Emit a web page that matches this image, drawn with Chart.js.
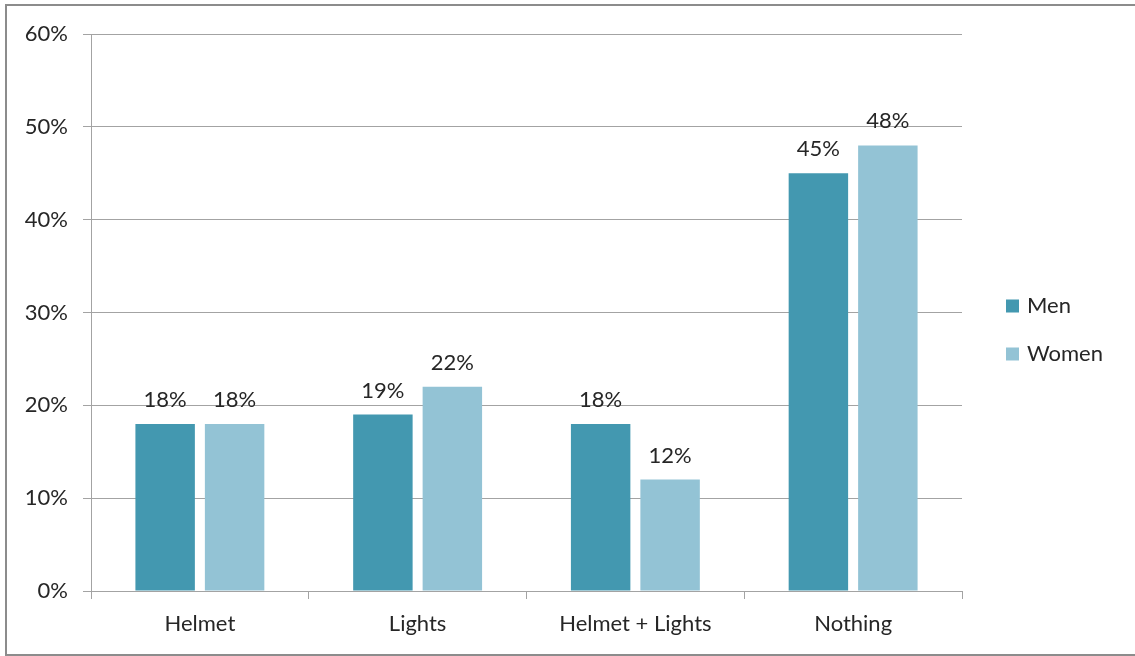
<!DOCTYPE html>
<html>
<head>
<meta charset="utf-8">
<script src="https://cdn.jsdelivr.net/npm/chart.js@4/dist/chart.umd.min.js"></script>
<style>
  html, body { margin: 0; padding: 0; background: #fff; overflow: hidden; }
  #wrap { position: absolute; left: 0; top: 0; width: 1135px; height: 656px; overflow: hidden; }
  #frame { position: absolute; left: 5px; top: 4px; width: 1130px; height: 652px;
           border: 2px solid #8c8c8c; border-right: none; box-sizing: border-box; pointer-events: none; }
</style>
</head>
<body>
<div id="wrap">
  <canvas id="c" width="1135" height="656"></canvas>
  <div id="frame"></div>
</div>
<script>
const categories = ['Helmet', 'Lights', 'Helmet + Lights', 'Nothing'];
const menValues = [18, 19, 18, 45];
const womenValues = [18, 22, 12, 48];
const seriesNames = ['Men', 'Women'];
const seriesColors = ['#4398b0', '#93c3d5'];

const FONT = 'Lato, "Open Sans", sans-serif';
const TEXT = '#262626';
const GRID = '#a3a3a3';

// Value labels above each bar
const valueLabels = {
  id: 'valueLabels',
  afterDatasetsDraw(chart) {
    const ctx = chart.ctx;
    ctx.save();
    ctx.font = '22px ' + FONT;
    ctx.fillStyle = TEXT;
    ctx.textAlign = 'center';
    ctx.textBaseline = 'alphabetic';
    chart.data.datasets.forEach((ds, i) => {
      chart.getDatasetMeta(i).data.forEach((bar, j) => {
        ctx.fillText(ds.data[j] + '%', bar.x, bar.y - 17);
      });
    });
    ctx.restore();
  }
};

// Legend to the right of the plot
const sideLegend = {
  id: 'sideLegend',
  afterDraw(chart) {
    const ctx = chart.ctx;
    ctx.save();
    ctx.font = '22px ' + FONT;
    ctx.textBaseline = 'middle';
    ctx.textAlign = 'left';
    chart.data.datasets.forEach((ds, i) => {
      const cy = 306 + i * 48;
      ctx.fillStyle = ds.backgroundColor;
      ctx.fillRect(1006, cy - 6.5, 13, 13);
      ctx.fillStyle = TEXT;
      ctx.fillText(ds.label, 1027, cy);
    });
    ctx.restore();
  }
};

new Chart(document.getElementById('c'), {
  type: 'bar',
  data: {
    labels: categories,
    datasets: [
      { label: seriesNames[0], data: menValues, backgroundColor: seriesColors[0] },
      { label: seriesNames[1], data: womenValues, backgroundColor: seriesColors[1] }
    ]
  },
  options: {
    responsive: false,
    animation: false,
    events: [],
    categoryPercentage: 0.638,
    barPercentage: 0.856,
    layout: { padding: { left: 0, top: 34, right: 173, bottom: 0 } },
    plugins: { legend: { display: false }, tooltip: { enabled: false } },
    scales: {
      x: {
        grid: { offset: true, drawOnChartArea: false, color: GRID, tickLength: 8 },
        border: { color: GRID },
        ticks: { color: TEXT, font: { family: FONT, size: 22 }, padding: 12 },
        afterFit(scale) { scale.height = 65; }
      },
      y: {
        min: 0, max: 60,
        grid: { color: GRID, tickLength: 8 },
        border: { color: GRID },
        ticks: {
          stepSize: 10, color: TEXT, font: { family: FONT, size: 22 }, padding: 15,
          callback: v => v + '%'
        },
        afterFit(scale) { scale.width = 91; }
      }
    }
  },
  plugins: [valueLabels, sideLegend]
});
</script>
</body>
</html>
